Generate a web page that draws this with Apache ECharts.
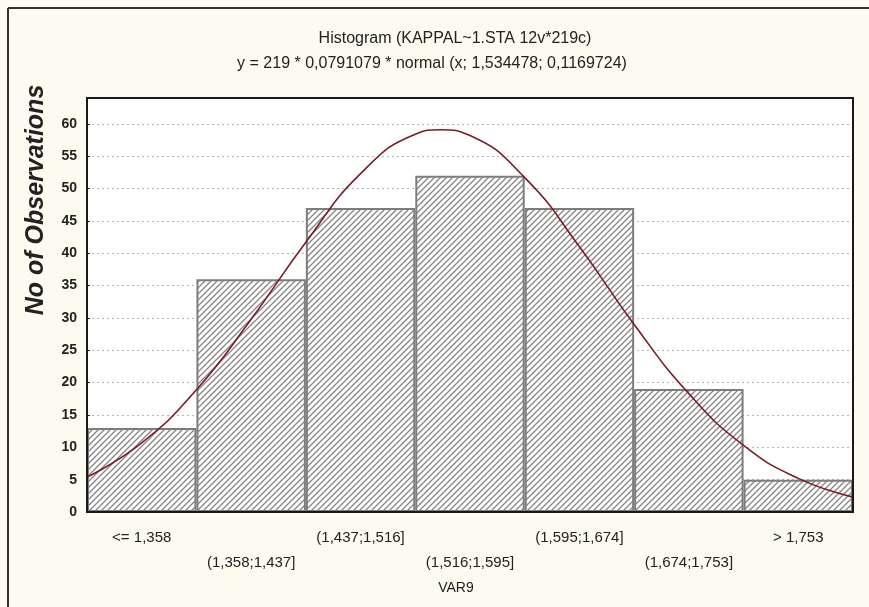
<!DOCTYPE html>
<html>
<head>
<meta charset="utf-8">
<script src="https://cdn.jsdelivr.net/npm/echarts@6/dist/echarts.min.js"></script>
<style>
html,body{margin:0;padding:0;background:#fdfaf0;}
#c{width:869px;height:607px;}
</style>
</head>
<body>
<div id="c"></div>
<script>
const categories = ['<= 1,358', '(1,358;1,437]', '(1,437;1,516]', '(1,516;1,595]', '(1,595;1,674]', '(1,674;1,753]', '> 1,753'];
const counts = [13, 36, 47, 52, 47, 19, 5];
// fitted normal curve (x in bin units from left edge)
const curveX = [0, 0.5, 1, 1.5, 2, 2.5, 3, 3.23, 3.5, 4, 4.5, 5, 5.5, 6, 6.5, 7];
const curveY = [5.4, 10.7, 18.9, 29.8, 41.7, 52.3, 58.4, 59.1, 58.2, 51.7, 41.0, 29.0, 18.3, 10.3, 5.2, 2.3];
const yTicks = [0, 5, 10, 15, 20, 25, 30, 35, 40, 45, 50, 55, 60];
const titleLine1 = 'Histogram (KAPPAL~1.STA 12v*219c)';
const titleLine2 = 'y = 219 * 0,0791079 * normal (x; 1,534478; 0,1169724)';

function hatch() {
  const s = 6;
  const cv = document.createElement('canvas');
  cv.width = s; cv.height = s;
  const g = cv.getContext('2d');
  g.fillStyle = '#ffffff';
  g.fillRect(0, 0, s, s);
  g.strokeStyle = '#858585';
  g.lineWidth = 1.3;
  g.beginPath();
  g.moveTo(-1, s + 1); g.lineTo(s + 1, -1);
  g.moveTo(-1, 1); g.lineTo(1, -1);
  g.moveTo(s - 1, s + 1); g.lineTo(s + 1, s - 1);
  g.stroke();
  return cv;
}

const G = {left: 87, right: 16, top: 98, bottom: 95};
const chart = echarts.init(document.getElementById('c'), null, {renderer: 'canvas'});
const option = {
  backgroundColor: '#fdfaf0',
  animation: false,
  grid: {left: G.left, right: G.right, top: G.top, bottom: G.bottom, show: true, backgroundColor: '#ffffff', borderWidth: 0},
  title: [
    {text: titleLine1, left: 450, top: 26, textAlign: 'center', textStyle: {fontFamily: 'Liberation Sans, Arial', fontSize: 16, fontWeight: 'normal', color: '#222'}},
    {text: titleLine2, left: 427, top: 51, textAlign: 'center', textStyle: {fontFamily: 'Liberation Sans, Arial', fontSize: 16, fontWeight: 'normal', color: '#222'}}
  ],
  xAxis: [
    {type: 'category', data: categories, boundaryGap: true,
     axisLine: {show: false}, axisTick: {show: false},
     axisLabel: {interval: 0, margin: 13, fontFamily: 'Liberation Sans, Arial', fontSize: 15, color: '#222', lineHeight: 25,
       formatter: function (v, i) { return i % 2 ? '\n' + v : v + '\n'; }}},
    {type: 'value', min: 0, max: 7, show: false}
  ],
  yAxis: {
    type: 'value', min: 0, max: 64, interval: 5,
    axisLine: {show: false},
    axisTick: {show: true, inside: true, length: 3, lineStyle: {color: '#222'}},
    axisLabel: {margin: 10, fontFamily: 'Liberation Sans, Arial', fontSize: 14, fontWeight: 'bold', color: '#222',
      formatter: function (v) { return yTicks.indexOf(v) >= 0 ? String(v) : ''; }},
    splitLine: {show: true, lineStyle: {color: '#b5b5b5', type: [2, 3], width: 1}}
  },
  graphic: [
    {type: 'line', shape: {x1: 8, y1: 8, x2: 869, y2: 8}, style: {stroke: '#333', lineWidth: 2}},
    {type: 'line', shape: {x1: 8, y1: 8, x2: 8, y2: 607}, style: {stroke: '#333', lineWidth: 2}},
    {type: 'rect', z: 100, shape: {x: G.left, y: G.top, width: 869 - G.left - G.right, height: 607 - G.top - G.bottom},
     style: {fill: 'none', stroke: '#1a1a1a', lineWidth: 2}},
    {type: 'text', x: 36, y: 200, rotation: Math.PI / 2,
     style: {text: 'No of Observations', textAlign: 'center', textVerticalAlign: 'middle', fontFamily: 'Liberation Sans, Arial', fontSize: 25, fontWeight: 'bold', fontStyle: 'italic', fill: '#222'}},
    {type: 'text', x: 456, y: 588,
     style: {text: 'VAR9', textAlign: 'center', textVerticalAlign: 'middle', fontFamily: 'Liberation Sans, Arial', fontSize: 14, fill: '#222'}}
  ],
  series: [
    {type: 'bar', data: counts, barCategoryGap: '0%', z: 2,
     itemStyle: {color: {image: hatch(), repeat: 'repeat'}, borderColor: '#7d7d7d', borderWidth: 2}},
    {type: 'line', xAxisIndex: 1, smooth: true, symbol: 'none', z: 5,
     data: curveX.map((x, i) => [x, curveY[i]]),
     lineStyle: {color: '#7a1c24', width: 1.6}}
  ]
};
chart.setOption(option);
</script>
</body>
</html>
